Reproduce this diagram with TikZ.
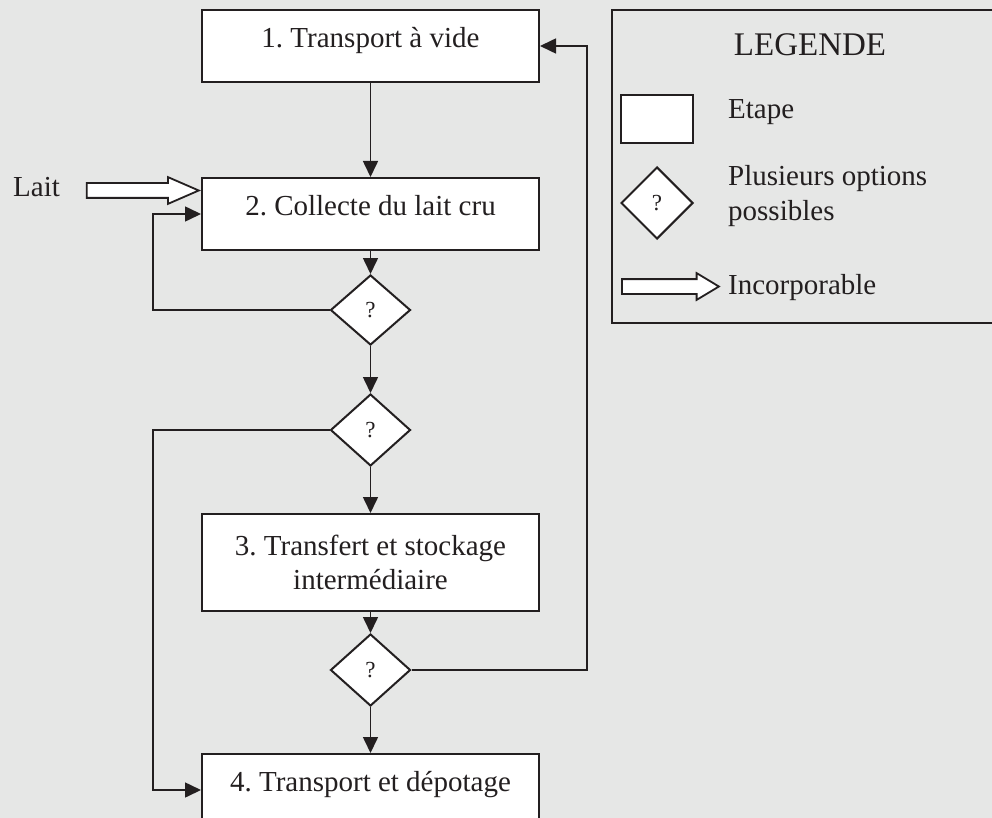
\documentclass[tikz,border=0pt]{standalone}
\usepackage{fontspec}
\setmainfont{Liberation Serif}
\frenchspacing
\usetikzlibrary{shapes.geometric,shapes.arrows,arrows.meta}
\definecolor{fond}{RGB}{230,231,230}
\definecolor{trait}{RGB}{35,31,32}

\begin{document}
\begin{tikzpicture}[x=1pt, y=-1pt,
    font=\fontsize{29}{33.3}\selectfont, text=trait,
    etape/.style={draw=trait, fill=white, line width=2pt, minimum width=337pt,
      minimum height=72pt, text height=0.7em, text depth=0.45em},
    choix/.style={diamond, draw=trait, fill=white, line width=2pt, inner sep=0pt,
      minimum width=80pt, minimum height=72pt, font=\fontsize{23}{28}\selectfont},
    creuse/.style={single arrow, draw=trait, fill=white, line width=1.8pt,
      inner xsep=0pt, inner ysep=6.5pt, single arrow head extend=6pt},
    fl/.style={draw=trait, line width=1.6pt, -{Triangle[length=16pt,width=15pt]}}]
    \useasboundingbox (0,0) rectangle (992,818);
    \fill[fond] (0,0) rectangle (992,818);
    % etapes
    \node[etape] (b1) at (370.5,46) {1. Transport à vide};
    \node[etape] (b2) at (370.5,214) {2. Collecte du lait cru};
    \node[choix, minimum height=70pt] (d1) at (370.5,310) {?};
    \node[choix] (d2) at (370.5,430) {?};
    \node[etape, minimum height=97pt, align=center, text height=, text depth=] (b3) at (370.5,562.5)
      {3. Transfert et stockage\\intermédiaire};
    \node[choix] (d3) at (370.5,670) {?};
    \node[etape] (b4) at (370.5,790) {4. Transport et dépotage};
    % lait
    \node[anchor=west, inner sep=0pt] (lait) at (13,187) {Lait};
    \node[creuse, minimum height=112pt, single arrow tip angle=47, anchor=tip] (flait)
      at ([yshift=23.5pt]b2.west) {};
    % fleches
    \draw[fl] (b1.south) -- (b2.north);
    \draw[fl] (b2.south) -- (d1.north);
    \draw[fl] (d1.west) -| ([xshift=-48pt]b2.west) -- (b2.west);
    \draw[fl] (d1.south) -- (d2.north);
    \draw[fl] (d2.west) -| ([xshift=-48pt]b4.west) -- (b4.west);
    \draw[fl] (d2.south) -- (b3.north);
    \draw[fl] (b3.south) -- (d3.north);
    \draw[fl] (d3.south) -- (b4.north);
    \draw[fl] (d3.east) -| ([xshift=47pt]b1.east) -- (b1.east);
    % legende
    \draw[draw=trait, line width=2pt] (612,10) rectangle (1000,323);
    \node[font=\fontsize{33}{40}\selectfont] (legtitre) at (810,45) {LEGENDE};
    \node[draw=trait, fill=white, line width=2pt, minimum width=72pt, minimum height=48pt]
      (legetape) at (657,119) {};
    \node[anchor=west, inner sep=0pt] (legetapetxt) at (728,112.5) {Etape};
    \node[choix, minimum width=72pt] (legchoix) at (657,203) {?};
    \node[anchor=west, inner sep=0pt, align=left, font=\fontsize{29}{35}\selectfont]
      (legchoixtxt) at (728,195.8) {Plusieurs options\\possibles};
    \node[creuse, minimum height=97pt, single arrow tip angle=62, anchor=tail] (legfleche)
      at (621,286.5) {};
    \node[anchor=west, inner sep=0pt] (legflechetxt) at (728,288) {Incorporable};
\end{tikzpicture}
\end{document}
